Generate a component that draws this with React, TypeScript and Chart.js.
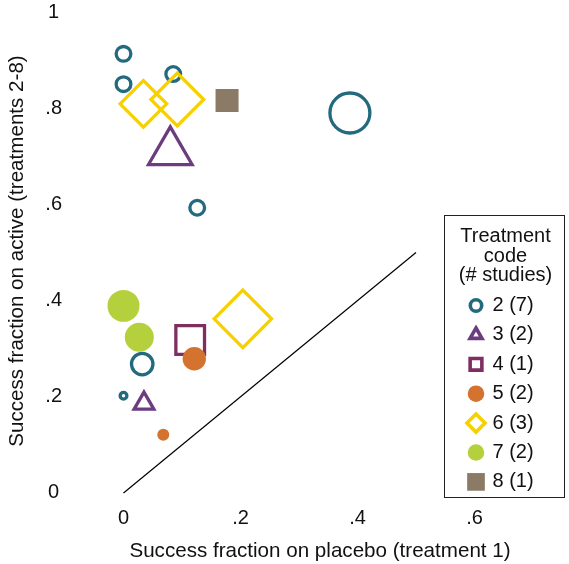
import React, { useEffect, useRef } from 'react';
import { Chart, registerables } from 'chart.js';
import { drawPoint } from 'chart.js/helpers';

Chart.register(...registerables);

const FONT = "'Liberation Sans', Arial, Helvetica, sans-serif";
const TICK_SIZE = 20;
const TITLE_SIZE = 20.6;
const LEGEND_SIZE = 20;
const TEXT_COLOR = '#111111';

// ---- axis ticks ----
const X_TICKS = [0, 0.2, 0.4, 0.6];
const X_TICK_LABELS = ['0', '.2', '.4', '.6'];
const Y_TICKS = [0, 0.2, 0.4, 0.6, 0.8, 1];
const Y_TICK_LABELS = ['0', '.2', '.4', '.6', '.8', '1'];

const X_TITLE = 'Success fraction on placebo (treatment 1)';
const Y_TITLE = 'Success fraction on active (treatments 2-8)';

// ---- series: success fractions (x = placebo, y = active) and study weights ----
const T2_X = [0, 0, 0.085, 0.126, 0.387, 0.032, 0];
const T2_Y = [0.913, 0.85, 0.871, 0.593, 0.79, 0.268, 0.202];
const T2_W = [9, 9, 9, 9, 52, 17, 2.8];

const T3_X = [0.08, 0.035];
const T3_Y = [0.709, 0.186];
const T3_W = [90, 24];

const T4_X = [0.114];
const T4_Y = [0.318];
const T4_W = [28.4];

const T5_X = [0.121, 0.068];
const T5_Y = [0.279, 0.121];
const T5_W = [15.2, 4];

const T6_X = [0.034, 0.092, 0.204];
const T6_Y = [0.809, 0.818, 0.362];
const T6_W = [73, 91.5, 107];

const T7_X = [0, 0.027];
const T7_Y = [0.389, 0.324];
const T7_W = [28.4, 23.4];

const T8_X = [0.177];
const T8_Y = [0.816];
const T8_W = [14.7];

// line of equality
const LINE_X = [0, 0.5];
const LINE_Y = [0, 0.5];

// ---- legend ----
const LEGEND_TITLE = ['Treatment', 'code', '(# studies)'];
const TREATMENT_CODES = [2, 3, 4, 5, 6, 7, 8];
const STUDY_COUNTS = [7, 2, 1, 2, 3, 2, 1];

const SERIES = [
  { xs: T2_X, ys: T2_Y, ws: T2_W },
  { xs: T3_X, ys: T3_Y, ws: T3_W },
  { xs: T4_X, ys: T4_Y, ws: T4_W },
  { xs: T5_X, ys: T5_Y, ws: T5_W },
  { xs: T6_X, ys: T6_Y, ws: T6_W },
  { xs: T7_X, ys: T7_Y, ws: T7_W },
  { xs: T8_X, ys: T8_Y, ws: T8_W },
];

const STYLES = [
  { color: '#236a7f', shape: 'circle', hollow: true, legendR: 5.7 },
  { color: '#6b3d7e', shape: 'triangle', hollow: true, legendR: 6.9 },
  { color: '#7d2f62', shape: 'rect', hollow: true, legendR: 8.3 },
  { color: '#d4722f', shape: 'circle', hollow: false, legendR: 8.3 },
  { color: '#f7d000', shape: 'rectRot', hollow: true, legendR: 9 },
  { color: '#b4d03c', shape: 'circle', hollow: false, legendR: 8.3 },
  { color: '#8a7a66', shape: 'rect', hollow: false, legendR: 12.5 },
];

const BW = 3.3;
const LEGEND_BW = 3.6;

function markerRadius(shape: string, w: number, hollow: boolean): number {
  const s = 3 * Math.sqrt(w);
  const b = hollow ? BW : 0;
  switch (shape) {
    case 'circle':
      return s - b / 2;
    case 'rect':
      return (s - b / 2) / Math.SQRT1_2;
    case 'rectRot':
      return s - (b / 2) * Math.SQRT2;
    case 'triangle':
      return s - b;
    default:
      return s;
  }
}

const textPlugin = {
  id: 'textAndLegend',
  afterDraw(chart: any) {
    const ctx: CanvasRenderingContext2D = chart.ctx;
    ctx.save();
    // axis titles
    ctx.fillStyle = TEXT_COLOR;
    ctx.font = `${TITLE_SIZE}px ${FONT}`;
    ctx.textAlign = 'center';
    ctx.textBaseline = 'alphabetic';
    ctx.fillText(X_TITLE, 320, 557);
    ctx.save();
    ctx.translate(22.7, 251);
    ctx.rotate(-Math.PI / 2);
    ctx.fillText(Y_TITLE, 0, 0);
    ctx.restore();

    // legend box
    const bx = 444.5, by = 215.5, bw = 120, bh = 282;
    ctx.fillStyle = '#ffffff';
    ctx.fillRect(bx, by, bw, bh);
    ctx.strokeStyle = '#222222';
    ctx.lineWidth = 1;
    ctx.strokeRect(bx, by, bw, bh);
    ctx.fillStyle = TEXT_COLOR;
    ctx.font = `${LEGEND_SIZE}px ${FONT}`;
    ctx.textAlign = 'center';
    ctx.textBaseline = 'middle';
    LEGEND_TITLE.forEach((t, i) => ctx.fillText(t, 505.5, 236.5 + i * 19.7));
    TREATMENT_CODES.forEach((code, i) => {
      const st = STYLES[i];
      const y = 305.5 + i * 29.4;
      ctx.save();
      ctx.fillStyle = st.hollow ? 'rgba(0,0,0,0)' : st.color;
      ctx.strokeStyle = st.color;
      ctx.lineWidth = st.hollow ? LEGEND_BW : 0;
      ctx.lineJoin = 'miter';
      drawPoint(ctx, { pointStyle: st.shape as any, rotation: 0, radius: st.legendR, borderWidth: st.hollow ? LEGEND_BW : 0 }, 476, y);
      ctx.restore();
      ctx.fillStyle = TEXT_COLOR;
      ctx.textAlign = 'left';
      ctx.textBaseline = 'middle';
      ctx.fillText(`${code} (${STUDY_COUNTS[i]})`, 492.5, y);
    });
    ctx.restore();
  },
};

export default function App() {
  const ref = useRef<HTMLCanvasElement | null>(null);

  useEffect(() => {
    if (!ref.current) return;
    Chart.defaults.font.family = FONT;
    Chart.defaults.font.size = TICK_SIZE;
    Chart.defaults.color = TEXT_COLOR;

    const datasets: any[] = SERIES.map((s, i) => {
      const st = STYLES[i];
      return {
        label: `${TREATMENT_CODES[i]} (${STUDY_COUNTS[i]})`,
        data: s.xs.map((x, j) => ({ x, y: s.ys[j] })),
        pointStyle: st.shape,
        pointRadius: s.ws.map((w) => markerRadius(st.shape, w, st.hollow)),
        pointHoverRadius: s.ws.map((w) => markerRadius(st.shape, w, st.hollow)),
        backgroundColor: st.hollow ? 'rgba(0,0,0,0)' : st.color,
        borderColor: st.color,
        pointBorderWidth: st.hollow ? BW : 0,
        borderWidth: st.hollow ? BW : 0,
        showLine: false,
        clip: false,
        order: SERIES.length - i,
      };
    });
    datasets.push({
      label: 'equality',
      data: LINE_X.map((x, j) => ({ x, y: LINE_Y[j] })),
      showLine: true,
      borderColor: '#000000',
      borderWidth: 1.2,
      pointRadius: 0,
      pointHoverRadius: 0,
      order: 100,
    });

    const chart = new Chart(ref.current, {
      type: 'scatter',
      data: { datasets },
      options: {
        animation: false,
        responsive: false,
        maintainAspectRatio: false,
        layout: { autoPadding: false, padding: { top: 12, right: 6.75, bottom: 0, left: 0 } },
        plugins: { legend: { display: false }, tooltip: { enabled: false } },
        scales: {
          x: {
            type: 'linear',
            min: -0.1,
            max: 0.75,
            grid: { display: false, drawTicks: false },
            border: { display: false },
            afterBuildTicks: (axis: any) => {
              axis.ticks = X_TICKS.map((v) => ({ value: v }));
            },
            afterFit: (axis: any) => {
              axis.height = 59;
            },
            ticks: {
              padding: 1.5,
              maxRotation: 0,
              autoSkip: false,
              font: { size: TICK_SIZE },
              callback: (_v: any, idx: number) => X_TICK_LABELS[idx],
            },
            title: { display: false },
          },
          y: {
            type: 'linear',
            min: -0.025,
            max: 1,
            grid: { display: false, drawTicks: false },
            border: { display: false },
            afterBuildTicks: (axis: any) => {
              axis.ticks = Y_TICKS.map((v) => ({ value: v }));
            },
            afterFit: (axis: any) => {
              axis.width = 65;
            },
            ticks: {
              padding: 3,
              crossAlign: 'center',
              autoSkip: false,
              font: { size: TICK_SIZE, lineHeight: 0.9 },
              callback: (_v: any, idx: number) => Y_TICK_LABELS[idx],
            },
            title: { display: false },
          },
        },
      },
      plugins: [textPlugin],
    } as any);

    return () => chart.destroy();
  }, []);

  return (
    <div style={{ position: 'absolute', left: 0, top: 0, width: 569, height: 564, background: '#fff' }}>
      <canvas ref={ref} width={569} height={564} style={{ display: 'block' }} />
    </div>
  );
}
